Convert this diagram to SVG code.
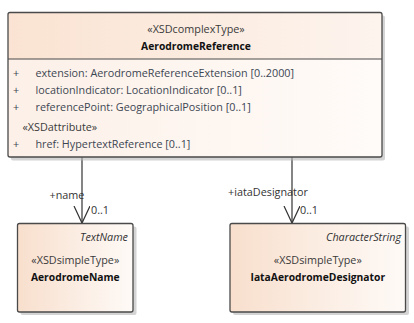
<svg xmlns="http://www.w3.org/2000/svg" width="414" height="323" viewBox="0 0 414 323">
  <defs>
    <linearGradient id="hdrFill" x1="0" y1="0" x2="1" y2="0">
      <stop offset="0" stop-color="#fae3d2"/>
      <stop offset="1" stop-color="#fdf4ee"/>
    </linearGradient>
    <linearGradient id="bodyFill" x1="0" y1="0" x2="1" y2="0">
      <stop offset="0" stop-color="#fcf0e8"/>
      <stop offset="1" stop-color="#fffbf8"/>
    </linearGradient>
    <linearGradient id="typeFill" x1="0" y1="0" x2="1" y2="0">
      <stop offset="0" stop-color="#f8dfcd"/>
      <stop offset="1" stop-color="#fefaf7"/>
    </linearGradient>
    <marker id="openArrow" markerWidth="20" markerHeight="20" refX="17" refY="8" orient="auto" markerUnits="userSpaceOnUse">
      <path d="M0,0 L17,8 L0,16" fill="none" stroke="#333" stroke-width="1.2"/>
    </marker>
  </defs>
  <style>
    text { font-family: "Open Sans", "Liberation Sans", sans-serif; font-size: 10.8px; fill: #333; }
    .stereo { fill: #3a3a3a; }
    .bold { font-weight: bold; font-size: 10.3px; fill: #111; }
    .attr { fill: #3c4652; }
    .ital { font-style: italic; fill: #333; }
    .shadow { fill: #b8b8b8; opacity: 0.6; }
    .frame { fill: none; stroke: #4a4a4a; stroke-width: 1.3; }
    .conn { stroke: #333; stroke-width: 1.2; fill: none; }
    .mid { text-anchor: middle; }
    .end { text-anchor: end; }
  </style>

  <!-- connectors -->
  <g id="connectors">
    <line class="conn" x1="82" y1="157" x2="82" y2="223" marker-end="url(#openArrow)"/>
    <text x="67" y="199" class="mid">+name</text>
    <text x="91" y="214">0..1</text>
    <line class="conn" x1="292" y1="157" x2="292" y2="223" marker-end="url(#openArrow)"/>
    <text x="268" y="196" class="mid">+iataDesignator</text>
    <text x="300" y="214">0..1</text>
  </g>

  <!-- AerodromeReference class -->
  <g id="AerodromeReference">
    <rect class="shadow" x="11" y="15.5" width="374" height="145" rx="2"/>
    <rect x="8" y="12.5" width="374" height="144.5" rx="2" fill="url(#bodyFill)"/>
    <path d="M8,59 V14.5 a2,2 0 0 1 2,-2 H380 a2,2 0 0 1 2,2 V59 Z" fill="url(#hdrFill)"/>
    <rect class="frame" x="8" y="12.5" width="374" height="144.5" rx="2"/>
    <line x1="8" y1="59" x2="382" y2="59" stroke="#4a4a4a" stroke-width="1.2"/>
    <text x="196" y="33" class="mid stereo">«XSDcomplexType»</text>
    <text x="196" y="49.5" class="mid bold">AerodromeReference</text>
    <text x="13" y="76.5" class="attr">+</text>
    <text x="35.5" y="76.5" class="attr">extension: AerodromeReferenceExtension [0..2000]</text>
    <text x="13" y="93.5" class="attr">+</text>
    <text x="35.5" y="93.5" class="attr">locationIndicator: LocationIndicator [0..1]</text>
    <text x="13" y="110.5" class="attr">+</text>
    <text x="35.5" y="110.5" class="attr">referencePoint: GeographicalPosition [0..1]</text>
    <text x="22.5" y="131" class="stereo">«XSDattribute»</text>
    <text x="13" y="147.5" class="attr">+</text>
    <text x="35.5" y="147.5" class="attr">href: HypertextReference [0..1]</text>
  </g>

  <!-- AerodromeName simple type -->
  <g id="AerodromeName">
    <rect class="shadow" x="20.5" y="226.5" width="116" height="88.5" rx="2"/>
    <rect x="17.5" y="223.5" width="115.5" height="88.5" rx="2" fill="url(#typeFill)"/>
    <rect class="frame" x="17.5" y="223.5" width="115.5" height="88.5" rx="2"/>
    <text x="128" y="240.5" class="end ital">TextName</text>
    <text x="75.3" y="264" class="mid stereo">«XSDsimpleType»</text>
    <text x="75.3" y="280.5" class="mid bold">AerodromeName</text>
  </g>

  <!-- IataAerodromeDesignator simple type -->
  <g id="IataAerodromeDesignator">
    <rect class="shadow" x="233" y="226.5" width="176" height="88.5" rx="2"/>
    <rect x="230" y="223.5" width="175.5" height="88.5" rx="2" fill="url(#typeFill)"/>
    <rect class="frame" x="230" y="223.5" width="175.5" height="88.5" rx="2"/>
    <text x="401" y="240.5" class="end ital">CharacterString</text>
    <text x="317.8" y="264" class="mid stereo">«XSDsimpleType»</text>
    <text x="317.8" y="280.5" class="mid bold">IataAerodromeDesignator</text>
  </g>
</svg>
